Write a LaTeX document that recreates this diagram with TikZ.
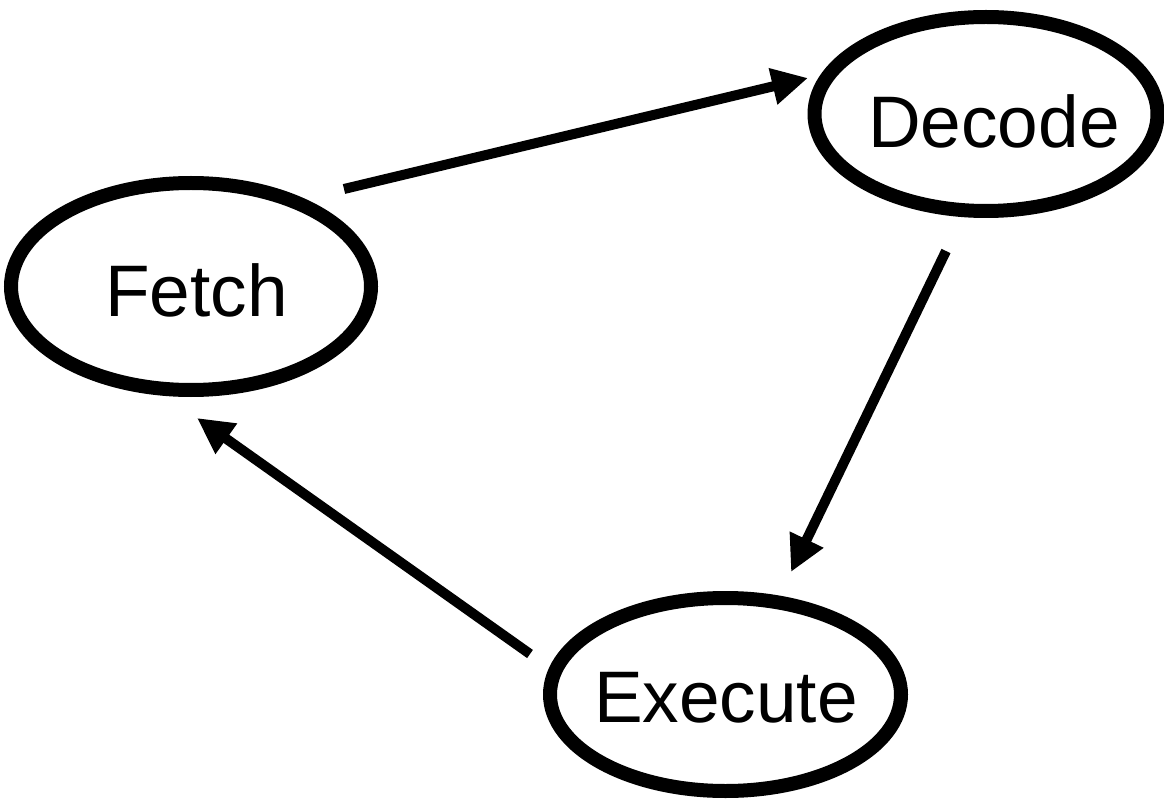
\documentclass[tikz,border=0pt]{standalone}
\usepackage{fontspec}
\setmainfont{Liberation Sans}
\usetikzlibrary{shapes.geometric,arrows.meta}

\tikzset{
  stage/.style={draw=black, line width=14pt, ellipse, inner sep=0pt, fill=none},
  stagetext/.style={anchor=base, inner sep=0pt, font=\fontsize{73}{88}\selectfont},
  flow/.style={line width=10pt, -{Triangle[length=36pt,width=35pt]}}
}

\begin{document}
\begin{tikzpicture}[x=1pt,y=-1pt]
  \useasboundingbox (0,0) rectangle (1164,799);

  % the three stages of the instruction cycle
  \node[stage, minimum width=360pt, minimum height=207pt] (fetch)   at (191,286.5) {};
  \node[stage, minimum width=343pt, minimum height=194pt] (decode)  at (986,114)   {};
  \node[stage, minimum width=351pt, minimum height=193pt] (execute) at (725.5,694.5) {};

  \node[stagetext] (fetchtext)   at (196.5,317) {Fetch};
  \node[stagetext] (decodetext)  at (994,148)   {Decode};
  \node[stagetext] (executetext) at (726,722)   {Execute};

  % arrow end points
  \coordinate (f1) at (344,189);
  \coordinate (d1) at (808,78);
  \coordinate (d2) at (946,251);
  \coordinate (e1) at (791,572);
  \coordinate (e2) at (530,654);
  \coordinate (f2) at (197,418);

  \draw[flow] (f1) -- (d1);
  \draw[flow] (d2) -- (e1);
  \draw[flow] (e2) -- (f2);
\end{tikzpicture}
\end{document}
